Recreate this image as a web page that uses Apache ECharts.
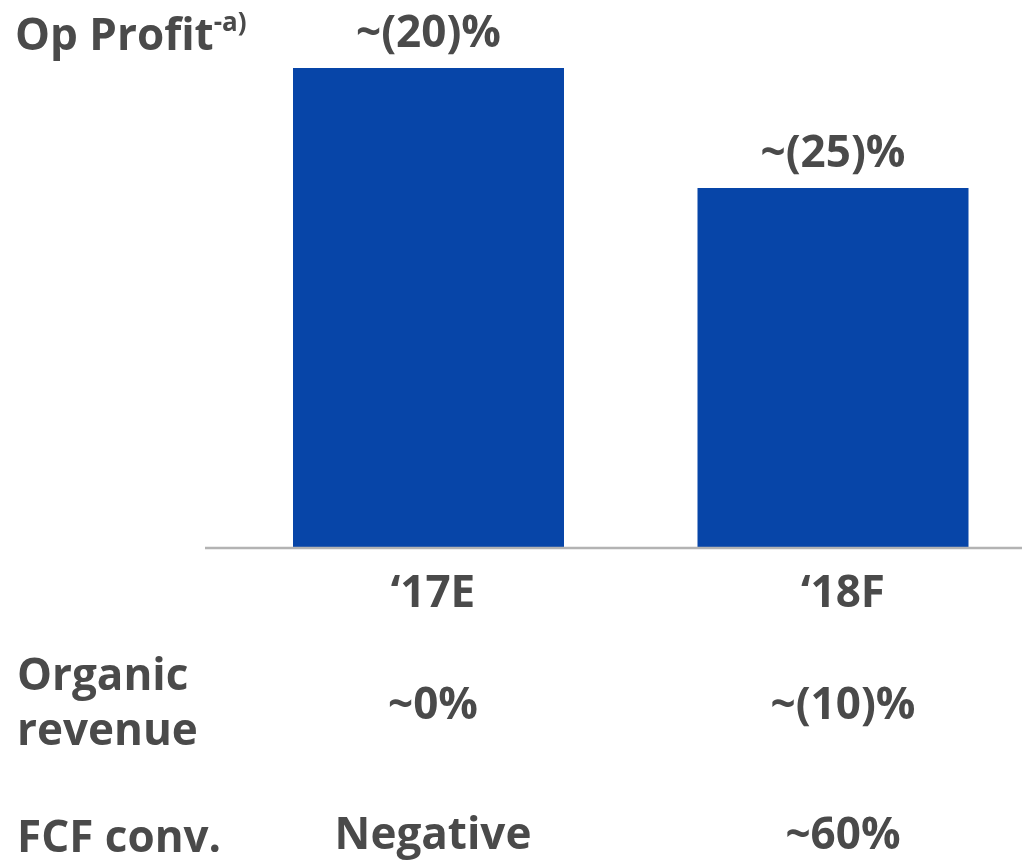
<!DOCTYPE html>
<html><head><meta charset="utf-8">
<script src="https://cdn.jsdelivr.net/npm/echarts@6/dist/echarts.min.js"></script>
<style>html,body{margin:0;padding:0;background:#fff}#c{width:1022px;height:863px}</style>
</head><body><div id="c"></div>
<script>
const categories = ["\u201817E", "\u201818F"];
const opProfitBar = [4.0, 3.0];
const opProfitLabels = ["~(20)%", "~(25)%"];
const organicRevenue = ["~0%", "~(10)%"];
const fcfConversion = ["Negative", "~60%"];
const rowTitles = ["Op Profit", "Organic\nrevenue", "FCF conv."];

const FONT = "'Open Sans', 'DejaVu Sans', sans-serif";
const TXT = '#4a4a4a';
const BLUE = '#0745a8';
const base = {fontFamily: FONT, fontWeight: 'bold', fontSize: 44, color: TXT};

const chart = echarts.init(document.getElementById('c'), null, {renderer: 'canvas'});

function rowAxis(data, margin, grid) {
  return {
    type: 'category', data: data, gridIndex: grid, position: 'bottom', boundaryGap: false,
    axisLine: {show: false}, axisTick: {show: false}, splitLine: {show: false},
    axisLabel: Object.assign({interval: 0, margin: margin, verticalAlign: 'middle', lineHeight: 50}, base)
  };
}

chart.setOption({
  animation: false,
  backgroundColor: '#fff',
  title: [
    {text: '{a|' + rowTitles[0] + '}{s|-a)}', left: 10, top: 6,
     textStyle: {rich: {a: Object.assign({lineHeight: 52}, base), s: {fontFamily: FONT, fontWeight: 'bold', fontSize: 26, color: TXT, verticalAlign: 'top', lineHeight: 34}}}},
    {text: rowTitles[1], left: 12, top: 645, textStyle: Object.assign({lineHeight: 55}, base)},
    {text: rowTitles[2], left: 12, top: 808, textStyle: Object.assign({lineHeight: 52}, base)}
  ],
  grid: [
    {left: 428.5, right: 189, top: 68, bottom: 315, containLabel: false},
    {left: 433, right: 179, top: 68, bottom: 315, containLabel: false}
  ],
  xAxis: [
    Object.assign(rowAxis(categories, 46, 0), {axisLabel: {show: false}}),
    rowAxis(categories, 46, 1),
    rowAxis(organicRevenue, 158, 1),
    rowAxis(fcfConversion, 288, 1)
  ],
  yAxis: [
    {type: 'value', gridIndex: 0, min: 0, max: 4, show: false, splitLine: {show: false}},
    {type: 'value', gridIndex: 1, min: 0, max: 4, show: false, splitLine: {show: false}}
  ],
  graphic: [{
    type: 'line', z: 10,
    shape: {x1: 205, y1: 548, x2: 1022, y2: 548},
    style: {stroke: '#b3b3b3', lineWidth: 2.5}
  }],
  series: [{
    type: 'bar', xAxisIndex: 0, yAxisIndex: 0, data: opProfitBar, barWidth: 271, clip: false,
    itemStyle: {color: BLUE},
    label: Object.assign({show: true, position: 'top', distance: 12,
      formatter: p => opProfitLabels[p.dataIndex]}, base)
  }]
});
</script></body></html>
